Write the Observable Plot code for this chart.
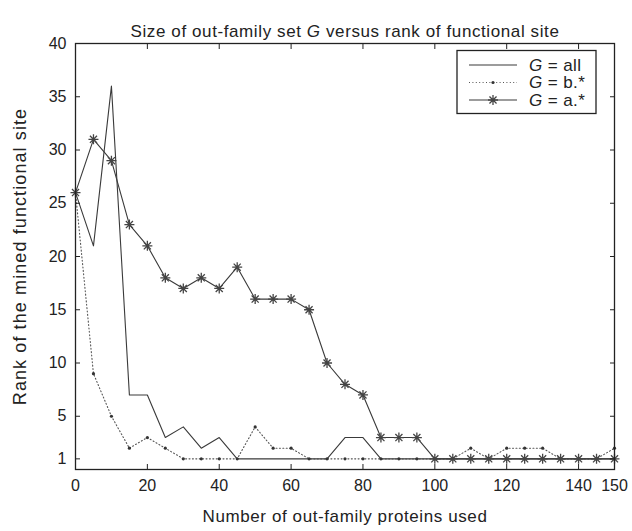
<!DOCTYPE html>
<html>
<head>
<meta charset="utf-8">
<script src="https://cdn.jsdelivr.net/npm/d3@7"></script>
<script src="https://cdn.jsdelivr.net/npm/@observablehq/plot@0.6"></script>
<style>
  html, body { margin: 0; padding: 0; background: #fff; }
  svg { display: block; }
</style>
</head>
<body>
<div id="chart"></div>
<script>
// ---- data ----
const proteinsUsed = [0,5,10,15,20,25,30,35,40,45,50,55,60,65,70,75,80,85,90,95,100,105,110,115,120,125,130,135,140,145,150];
const rankAll = [26,21,36,7,7,3,4,2,3,1,1,1,1,1,1,3,3,1,1,1,1,1,1,1,1,1,1,1,1,1,1];
const rankB   = [26,9,5,2,3,2,1,1,1,1,4,2,2,1,1,1,1,1,1,1,1,1,2,1,2,2,2,1,1,1,2];
const rankA   = [26,31,29,23,21,18,17,18,17,19,16,16,16,15,10,8,7,3,3,3,1,1,1,1,1,1,1,1,1,1,1];
const xTicks = [0,20,40,60,80,100,120,140,150];
const yTicks = [1,5,10,15,20,25,30,35,40];
const seriesNames = ["all", "b.*", "a.*"];
const titleText = "Size of out-family set G versus rank of functional site";
const xLabel = "Number of out-family proteins used";
const yLabel = "Rank of the mined functional site";

const toRows = (vals) => proteinsUsed.map((x, i) => ({x, y: vals[i]}));
const dAll = toRows(rankAll), dB = toRows(rankB), dA = toRows(rankA);

const asterisk = {
  draw(ctx, size) {
    const r = Math.sqrt(size / Math.PI), d = r * Math.SQRT1_2;
    ctx.moveTo(-r, 0); ctx.lineTo(r, 0);
    ctx.moveTo(0, -r); ctx.lineTo(0, r);
    ctx.moveTo(-d, -d); ctx.lineTo(d, d);
    ctx.moveTo(-d, d); ctx.lineTo(d, -d);
  }
};

const FONT = "'Liberation Sans', Arial, Helvetica, sans-serif";
const INK = "#222";
const LINE = "#3a3a3a";

const chart = Plot.plot({
  width: 632,
  height: 531,
  marginLeft: 75,
  marginRight: 18,
  marginTop: 43,
  marginBottom: 62,
  style: {fontFamily: FONT, fontSize: "16px", background: "#fff", color: INK, overflow: "visible"},
  x: {domain: [0, 150]},
  y: {domain: [0, 40]},
  marks: [
    // series
    Plot.line(dAll, {x: "x", y: "y", stroke: LINE, strokeWidth: 1.1}),
    Plot.line(dB, {x: "x", y: "y", stroke: "#555", strokeWidth: 1.1, strokeDasharray: "1,2.4"}),
    Plot.dot(dB, {x: "x", y: "y", r: 1.6, fill: "#333", stroke: "none"}),
    Plot.line(dA, {x: "x", y: "y", stroke: LINE, strokeWidth: 1.1}),
    Plot.dot(dA, {x: "x", y: "y", r: 5, symbol: asterisk, stroke: "#444", strokeWidth: 1.3, fill: "none"}),
    // axes: inward ticks on all four sides
    Plot.axisX(xTicks, {anchor: "bottom", tickSize: 0, tickPadding: 10, label: null, fill: INK, fontSize: 16}),
    Plot.axisX(xTicks, {anchor: "bottom", tickSize: -5, fill: "none", label: null, stroke: INK}),
    Plot.axisX(xTicks, {anchor: "top", tickSize: -5, fill: "none", label: null, stroke: INK}),
    Plot.axisY(yTicks, {anchor: "left", tickSize: 0, tickPadding: 9, label: null, fill: INK, fontSize: 16}),
    Plot.axisY(yTicks, {anchor: "left", tickSize: -5, fill: "none", label: null, stroke: INK}),
    Plot.axisY(yTicks, {anchor: "right", tickSize: -5, fill: "none", label: null, stroke: INK}),
    Plot.frame({stroke: INK, strokeWidth: 1.3}),
    // title and axis labels
    Plot.text([titleText], {frameAnchor: "top", dy: -19, fontSize: 17, fill: INK, textAnchor: "middle"}),
    Plot.text([xLabel], {frameAnchor: "bottom", dy: 52, fontSize: 17, fill: INK, textAnchor: "middle"}),
    Plot.text([yLabel], {frameAnchor: "left", dx: -55, rotate: -90, fontSize: 18, fill: INK, textAnchor: "middle"})
  ]
});

const svg = d3.select(chart);
svg.selectAll("text").filter(function() {
  const t = this.textContent;
  return t === titleText || t === xLabel;
}).style("letter-spacing", "0.6px");
svg.selectAll("text").filter(function() { return this.textContent === yLabel; })
  .style("letter-spacing", "1.1px");

// title with italic G
svg.selectAll("text").filter(function() { return this.textContent === titleText; }).each(function() {
  const el = d3.select(this);
  el.text(null);
  el.append("tspan").text("Size of out-family set ");
  el.append("tspan").style("font-style", "italic").text("G");
  el.append("tspan").text(" versus rank of functional site");
});

// legend (inside the plot frame, upper right)
const xs = chart.scale("x"), ys = chart.scale("y");
const frameRight = xs.range[1], frameTop = ys.range[1];
const boxW = 139, boxH = 63, boxX = frameRight - 18 - boxW, boxY = frameTop + 7.5;
const lg = svg.append("g").attr("font-family", FONT).attr("font-size", 17).attr("fill", INK)
  .attr("text-anchor", "start");
lg.append("rect").attr("x", boxX).attr("y", boxY).attr("width", boxW).attr("height", boxH)
  .attr("fill", "#fff").attr("stroke", INK).attr("stroke-width", 1.3);
const styles = [
  {dash: null, marker: null},
  {dash: "1,2.4", marker: "dot"},
  {dash: null, marker: "asterisk"}
];
seriesNames.forEach((name, i) => {
  const cy = boxY + 14.5 + i * 17.5;
  const x0 = boxX + 12, x1 = boxX + 60, xm = (x0 + x1) / 2;
  const s = styles[i];
  lg.append("line").attr("x1", x0).attr("x2", x1).attr("y1", cy).attr("y2", cy)
    .attr("stroke", s.dash ? "#555" : LINE).attr("stroke-width", 1.1)
    .attr("stroke-dasharray", s.dash);
  if (s.marker === "dot") lg.append("circle").attr("cx", xm).attr("cy", cy).attr("r", 1.6).attr("fill", "#333");
  if (s.marker === "asterisk") {
    lg.append("path").attr("transform", `translate(${xm},${cy})`)
      .attr("d", d3.symbol(asterisk, Math.PI * 5 * 5)())
      .attr("fill", "none").attr("stroke", "#444").attr("stroke-width", 1.3);
  }
  const t = lg.append("text").attr("x", boxX + 72).attr("y", cy).attr("dy", "0.35em")
    .attr("text-anchor", "start").style("letter-spacing", "0.4px");
  t.append("tspan").style("font-style", "italic").text("G");
  t.append("tspan").text(" = " + name);
});

document.getElementById("chart").appendChild(chart);
</script>
</body>
</html>
